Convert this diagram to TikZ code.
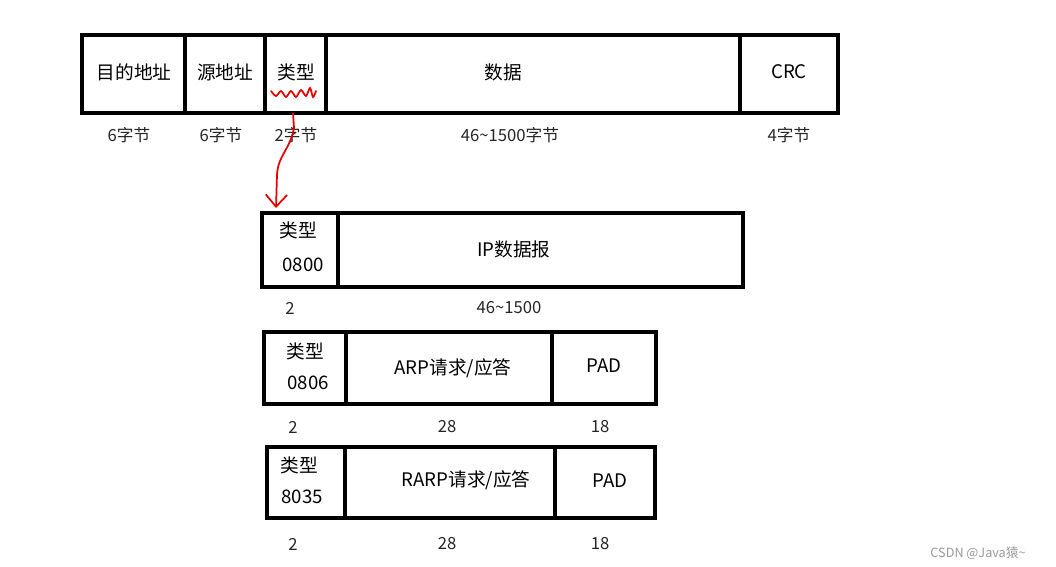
\documentclass[tikz,border=0pt]{standalone}
\usepackage{fontspec}
\setmainfont{Noto Sans CJK SC}
\usepackage{xcolor}
\usepackage{tikz}
\usetikzlibrary{calc, arrows.meta, positioning}

\tikzset{
    frame/.style={draw=black, line width=2.6pt},
    label/.style={inner sep=0pt, font=\fontsize{14}{16}\selectfont},
    size/.style={inner sep=0pt, font=\fontsize{12.5}{14}\selectfont, text=black!85},
    redmark/.style={draw=red!90!black, line width=1.3pt}
}

\begin{document}
\begin{tikzpicture}[x=0.75pt, y=-0.75pt, >=stealth]
    \useasboundingbox (0,0) rectangle (1056,567);

    % Khung Ethernet: 目的地址 | 源地址 | 类型 | 数据 | CRC
    \draw[frame] (82,35) rectangle (838,113);
    \foreach \xx in {185, 265, 326, 740} \draw[frame] (\xx,35) -- (\xx,113);
    \node[label] (dst) at (134,72) {目的地址};
    \node[label] (src) at (225,72) {源地址};
    \node[label] (typ) at (296,72) {类型};
    \node[label] (dat) at (503,72) {数据};
    \node[label] (crc) at (789,72) {CRC};
    % Độ dài từng trường
    \node[size] at (129,135) {6字节};
    \node[size] at (221,135) {6字节};
    \node[size] at (296,135) {2字节};
    \node[size] at (510,135) {46\textasciitilde1500字节};
    \node[size] at (789,135) {4字节};

    % Đánh dấu trường 类型 và mũi tên xuống
    \draw[redmark, line cap=round] plot[smooth] coordinates
        {(271,91) (276,96) (281,91) (286,97) (291,91) (296,97) (301,90) (306,96) (310,88) (313,97) (316,91)};
    \coordinate (typA) at (293,113);
    \coordinate (typB) at (276,208);
    \draw[redmark, -{Straight Barb[length=9pt, width=16pt]}] (typA) -- (294,128)
        .. controls (290,150) and (278,155) .. (277,175) -- (typB);

    % IP数据报
    \draw[frame] (262,213) rectangle (743,287);
    \draw[frame] (338,213) -- (338,287);
    \node[label] (ipt) at (298,230) {类型};
    \node[label] (ipn) at (303,265) {0800};
    \node[label] (ipd) at (514,249) {IP数据报};
    \node[size] at (290,308) {2};
    \node[size] at (509,308) {46\textasciitilde1500};

    % ARP请求/应答
    \draw[frame] (264,332) rectangle (656,404);
    \foreach \xx in {346, 552} \draw[frame] (\xx,332) -- (\xx,404);
    \node[label] (arpt) at (305,351) {类型};
    \node[label] (arpn) at (308,383) {0806};
    \node[label] (arpd) at (453,368) {ARP请求/应答};
    \node[label] (arpp) at (604,366) {PAD};
    \node[size] at (293,427) {2};
    \node[size] at (447,427) {28};
    \node[size] at (600,427) {18};

    % RARP请求/应答
    \draw[frame] (267,447) rectangle (655,518);
    \foreach \xx in {345, 555} \draw[frame] (\xx,447) -- (\xx,518);
    \node[label] (rarpt) at (299,465) {类型};
    \node[label] (rarpn) at (302,497) {8035};
    \node[label] (rarpd) at (466,480) {RARP请求/应答};
    \node[label] (rarpp) at (610,481) {PAD};
    \node[size] at (293,544) {2};
    \node[size] at (447,544) {28};
    \node[size] at (600,544) {18};

    % Watermark
    \node[inner sep=0pt, font=\fontsize{9.5}{11}\selectfont, text=black!40] (wm) at (978,553) {CSDN @Java猿\textasciitilde};
\end{tikzpicture}
\end{document}
